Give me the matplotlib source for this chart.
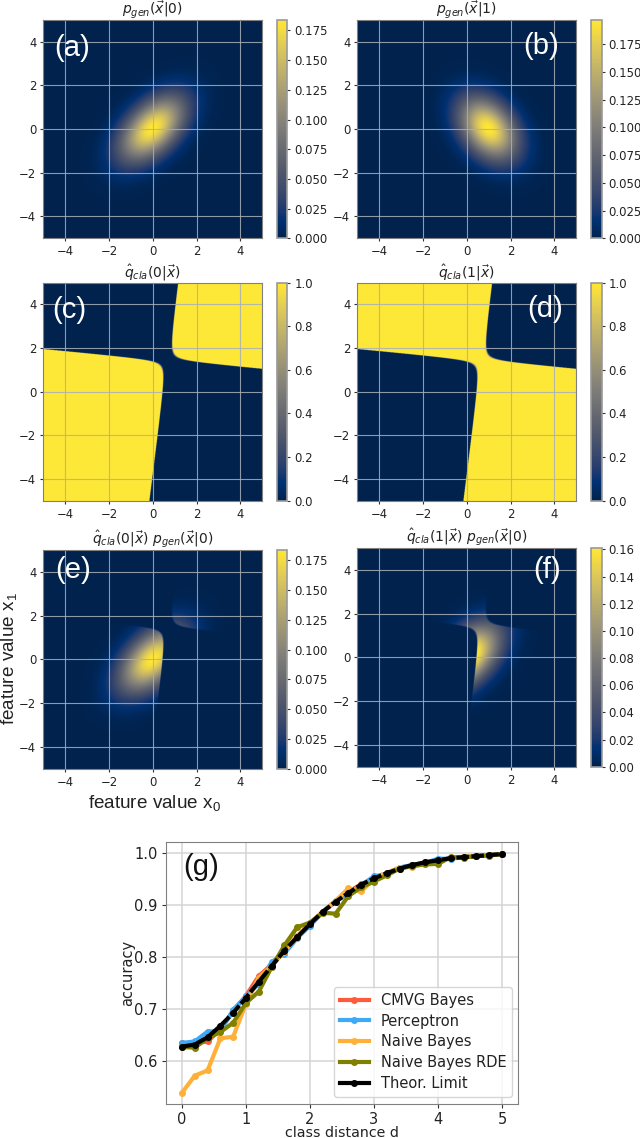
import numpy as np
import matplotlib
matplotlib.use("Agg")
import matplotlib.pyplot as plt

W, H = 640, 1138

mean_0 = [0.0, 0.0]
cov_0 = [[1.0, 0.5], [0.5, 1.0]]
mean_1 = [1.0, 0.0]
cov_1 = [[0.8, -0.3], [-0.3, 0.93]]

bound_v = [0.51, 0.128]
bound_h = [1.52, 0.094]
bound_round = 0.08

# panel g
distance = [0.0, 0.2, 0.4, 0.6, 0.8, 1.0, 1.2, 1.4, 1.6, 1.8, 2.0, 2.2, 2.4,
            2.6, 2.8, 3.0, 3.2, 3.4, 3.6, 3.8, 4.0, 4.2, 4.4, 4.6, 4.8, 5.0]
cmvg = [.633, .633, .637, .660, .695, .725, .763, .785, .810, .840, .862, .887, .906,
        .925, .940, .950, .960, .972, .976, .982, .986, .990, .992, .994, .996, .998]
perceptron = [.634, .637, .656, .657, .698, .724, .748, .790, .806, .836, .860, .886, .908,
              .922, .938, .955, .960, .972, .977, .981, .989, .989, .992, .994, .996, .998]
naive = [.538, .571, .581, .643, .646, .710, .760, .782, .810, .840, .865, .887, .908,
         .932, .926, .950, .962, .972, .973, .980, .985, .990, .993, .994, .996, .998]
naive_rde = [.626, .625, .643, .655, .673, .711, .733, .780, .822, .857, .866, .885, .883,
             .917, .934, .945, .957, .970, .975, .978, .979, .992, .991, .994, .995, .998]
limit = [.627, .631, .645, .667, .692, .721, .752, .782, .812, .838, .863, .887, .906,
         .923, .939, .951, .961, .970, .977, .982, .986, .990, .992, .994, .996, .998]


def gauss(x, y, mean, cov):
    inv = np.linalg.inv(cov)
    dx = x - mean[0]
    dy = y - mean[1]
    q = inv[0, 0] * dx * dx + 2 * inv[0, 1] * dx * dy + inv[1, 1] * dy * dy
    return np.exp(-0.5 * q) / (2 * np.pi * np.sqrt(np.linalg.det(cov)))


def add_px(left, top, right, bottom):
    return fig.add_axes([left / W, 1 - bottom / H, (right - left) / W, (bottom - top) / H])


def heat(box, cbox, field, title, label, lx, ly):
    ax = add_px(*box)
    im = ax.imshow(field, origin="lower", extent=[-5, 5, -5, 5], cmap="cividis", aspect="auto")
    ax.set_xticks([-4, -2, 0, 2, 4])
    ax.set_yticks([-4, -2, 0, 2, 4])
    ax.tick_params(labelsize=8.4, length=2.5, pad=2.5, color="#333333", labelcolor="#222222")
    ax.grid(True, color="#a8b0b8", linewidth=0.8, alpha=0.85)
    ax.set_title(title, fontsize=10, pad=1.5, color="#222222")
    ax.text(lx, ly, label, color="white", fontsize=21, family="Liberation Sans", va="center")
    for s in ax.spines.values():
        s.set_color("#808080")
    cax = add_px(*cbox)
    cb = fig.colorbar(im, cax=cax)
    cb.ax.tick_params(labelsize=8.4, length=2.5, pad=2.5, color="#333333", labelcolor="#222222")
    cb.outline.set_edgecolor("#999999")
    cb.outline.set_linewidth(1.2)
    return ax


grid = np.linspace(-5, 5, 600)
x0, x1 = np.meshgrid(grid, grid)
p0 = gauss(x0, x1, mean_0, cov_0)
p1 = gauss(x0, x1, mean_1, cov_1)
u = x0 - bound_v[0] - bound_v[1] * x1
v = x1 - bound_h[0] + bound_h[1] * x0
q0 = 1 / (1 + np.exp(np.clip(-150 * (u * v - bound_round), -50, 50)))
q1 = 1 - q0

fig = plt.figure(figsize=(W / 100, H / 100), dpi=100)

L1, R1, CL1, CR1 = 43.3, 262.3, 276.7, 287.3
L2, R2, CL2, CR2 = 357.3, 576.3, 591, 601.7

heat((L1, 20, R1, 238.3), (CL1, 20, CR1, 238.3), p0, r"$p_{gen}(\vec{x}|0)$", "(a)", -4.5, 3.7)
heat((L2, 20, R2, 238.3), (CL2, 20, CR2, 238.3), p1, r"$p_{gen}(\vec{x}|1)$", "(b)", 2.58, 3.8)
heat((L1, 282.7, R1, 500.7), (CL1, 282.7, CR1, 500.7), q0, r"$\hat{q}_{cla}(0|\vec{x})$", "(c)", -4.6, 3.75)
heat((L2, 282.7, R2, 500.7), (CL2, 282.7, CR2, 500.7), q1, r"$\hat{q}_{cla}(1|\vec{x})$", "(d)", 2.76, 3.8)
ax_e = heat((L1, 550, R1, 768.7), (CL1, 550, CR1, 768.7), q0 * p0,
            r"$\hat{q}_{cla}(0|\vec{x})\ p_{gen}(\vec{x}|0)$", "(e)", -4.47, 4.1)
heat((L2, 548, R2, 766.7), (CL2, 548, CR2, 766.7), q1 * p0,
     r"$\hat{q}_{cla}(1|\vec{x})\ p_{gen}(\vec{x}|0)$", "(f)", 3.04, 4.0)

fig.text(154 / W, 1 - 804 / H, r"feature value x$_{\mathregular{0}}$", fontsize=13.6,
         family="Liberation Sans", ha="center", va="center", color="#222222")
fig.text(10 / W, 1 - 659 / H, r"feature value x$_{\mathregular{1}}$", fontsize=13.6, rotation=90,
         family="Liberation Sans", ha="center", va="center", color="#222222")

# panel g
ax = add_px(166, 841.7, 518, 1104)
ax.plot(distance, cmvg, color="#ff5a3c", lw=3, marker="o", ms=4, label="CMVG Bayes")
ax.plot(distance, perceptron, color="#3fa9f5", lw=3, marker="o", ms=4, label="Perceptron")
ax.plot(distance, naive, color="#ffb039", lw=3, marker="o", ms=4, label="Naive Bayes")
ax.plot(distance, naive_rde, color="#808000", lw=3, marker="o", ms=4, label="Naive Bayes RDE")
ax.plot(distance, limit, color="black", lw=3, marker="o", ms=4, ls=(0, (3, 0.6)), label="Theor. Limit")
ax.set_xlim(-0.25, 5.25)
ax.set_ylim(1 - (1104 - 853) / 519, 1 + (853 - 841.7) / 519)
ax.set_xticks([0, 1, 2, 3, 4, 5])
ax.set_yticks([0.6, 0.7, 0.8, 0.9, 1.0])
ax.tick_params(labelsize=10.5, length=3, pad=3, color="#333333", labelcolor="#222222")
ax.grid(True, color="#d4d4d4", linewidth=1.1)
ax.set_xlabel("class distance d", fontsize=10.2, labelpad=-1, color="#222222")
ax.set_ylabel("accuracy", fontsize=10.5, labelpad=-1, color="#222222")
ax.text(0.02, 0.973, "(g)", fontsize=21, family="Liberation Sans", va="center", color="#111111")
for s in ax.spines.values():
    s.set_color("#808080")
leg = ax.legend(loc="lower right", fontsize=10.5, bbox_to_anchor=(0.983, 0.027), borderaxespad=0,
                labelspacing=0.4, labelcolor="#222222")
leg.get_lines()[-1].set_linestyle("-")

fig.savefig("out.png", dpi=100)
